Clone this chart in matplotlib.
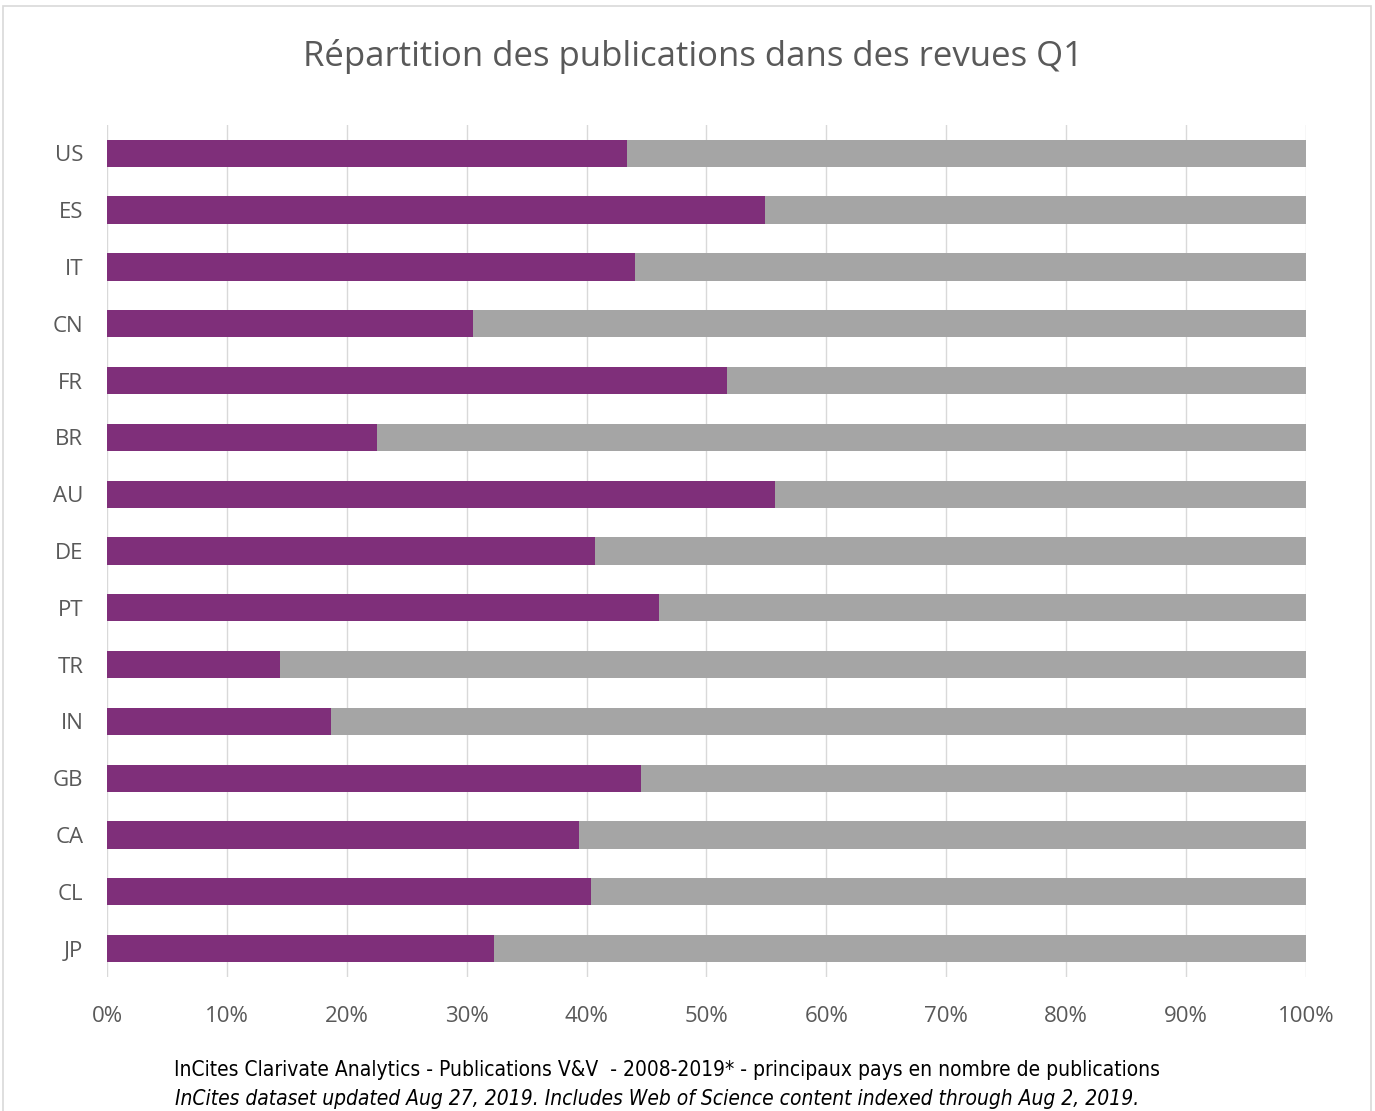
import matplotlib
matplotlib.use("Agg")
import matplotlib.pyplot as plt
from matplotlib.patches import Rectangle
from matplotlib.ticker import PercentFormatter

# Data (share of publications in Q1 journals, %)
countries = ["US", "ES", "IT", "CN", "FR", "BR", "AU", "DE", "PT", "TR", "IN", "GB", "CA", "CL", "JP"]
q1_share = [43.4, 54.9, 44.0, 30.5, 51.7, 22.5, 55.7, 40.7, 46.0, 14.4, 18.7, 44.5, 39.4, 40.4, 32.3]
other_share = [100 - v for v in q1_share]

title = "Répartition des publications dans des revues Q1"
footer1 = "InCites Clarivate Analytics - Publications V&V  - 2008-2019* - principaux pays en nombre de publications"
footer2 = "InCites dataset updated Aug 27, 2019. Includes Web of Science content indexed through Aug 2, 2019."

purple = "#7F2F7A"
grey = "#A5A5A5"
text_grey = "#595959"

fig = plt.figure(figsize=(13.75, 11.11), dpi=100)
ax = fig.add_axes([0.0778, 0.1206, 0.872, 0.767])

y = list(range(len(countries)))
ax.barh(y, q1_share, height=0.48, color=purple, zorder=2)
ax.barh(y, other_share, left=q1_share, height=0.48, color=grey, zorder=2)

ax.set_xlim(0, 100)
ax.set_ylim(len(countries) - 0.5, -0.5)
ax.set_xticks(range(0, 101, 10))
ax.xaxis.set_major_formatter(PercentFormatter(decimals=0))
ax.set_yticks(y)
ax.set_yticklabels(countries)
ax.grid(axis="x", color="#D9D9D9", linewidth=1, zorder=0)
for s in ax.spines.values():
    s.set_visible(False)
ax.tick_params(length=0, colors=text_grey, labelsize=16)
ax.tick_params(axis="x", pad=21)
ax.tick_params(axis="y", pad=17)
for lab in ax.get_xticklabels() + ax.get_yticklabels():
    lab.set_family(["Open Sans", "DejaVu Sans"])

fig.text(0.504, 0.949, title, ha="center", va="center", fontsize=25,
         color=text_grey, family=["Open Sans", "DejaVu Sans"])
fig.text(0.485, 0.037, footer1, ha="center", va="center", fontsize=15,
         color="black", family=["DejaVu Sans"], stretch="condensed")
fig.text(0.478, 0.011, footer2, ha="center", va="center", fontsize=15,
         color="black", style="italic", family=["DejaVu Sans"], stretch="condensed")

# light chart border
fig.patches.append(Rectangle((3 / 1375, -0.01), 1368 / 1375, 1 - 6 / 1111 + 0.01,
                             transform=fig.transFigure, fill=False,
                             edgecolor="#D9D9D9", linewidth=1.2))

fig.savefig("out.png", dpi=100)
